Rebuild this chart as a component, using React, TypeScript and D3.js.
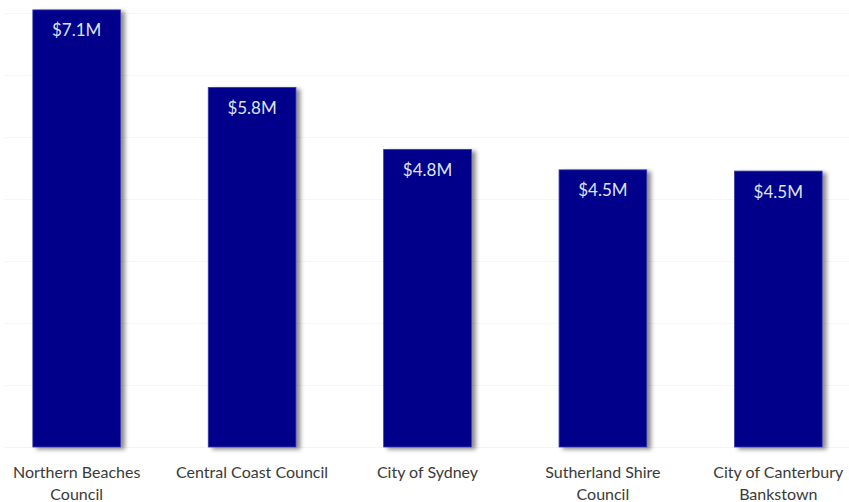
import React, { useEffect, useRef } from 'react';
import * as d3 from 'd3';

const councils = [
  'Northern Beaches Council',
  'Central Coast Council',
  'City of Sydney',
  'Sutherland Shire Council',
  'City of Canterbury Bankstown',
];
const grants = [7.05, 5.8, 4.8, 4.47, 4.45];
const barLabels = ['$7.1M', '$5.8M', '$4.8M', '$4.5M', '$4.5M'];
const gridTicks = [0, 1, 2, 3, 4, 5, 6, 7];

const WIDTH = 849;
const HEIGHT = 502;

export default function App() {
  const svgRef = useRef<SVGSVGElement>(null);

  useEffect(() => {
    if (!svgRef.current) return;
    const svg = d3.select(svgRef.current);
    svg.selectAll('*').remove();

    const baseline = 447;
    const x = d3.scaleBand().domain(councils).range([-11, 866]).paddingInner(0.5).paddingOuter(0.25);
    const y = d3.scaleLinear().domain([0, 7]).range([baseline, 13]);

    const defs = svg.append('defs');
    const f = defs.append('filter').attr('id', 'barShadow')
      .attr('x', '-10%').attr('y', '-10%').attr('width', '130%').attr('height', '120%');
    f.append('feDropShadow')
      .attr('dx', 4).attr('dy', 2).attr('stdDeviation', 2)
      .attr('flood-color', '#000').attr('flood-opacity', 0.45);

    // faint gridlines
    svg.append('g')
      .selectAll('line')
      .data(gridTicks)
      .join('line')
      .attr('x1', 4)
      .attr('x2', WIDTH)
      .attr('y1', d => Math.round(y(d)) + 0.5)
      .attr('y2', d => Math.round(y(d)) + 0.5)
      .attr('stroke', d => (d === 0 ? '#f4f4f4' : '#f3f7f7'))
      .attr('stroke-width', 1);

    // bars
    svg.append('g')
      .selectAll('rect')
      .data(grants)
      .join('rect')
      .attr('x', (_, i) => x(councils[i])!)
      .attr('y', d => y(d))
      .attr('width', x.bandwidth())
      .attr('height', d => baseline - y(d))
      .attr('fill', '#00008b')
      .attr('stroke', '#3a3aa8')
      .attr('stroke-width', 0.8)
      .attr('filter', 'url(#barShadow)');

    // value labels
    svg.append('g')
      .selectAll('text')
      .data(grants)
      .join('text')
      .attr('x', (_, i) => x(councils[i])! + x.bandwidth() / 2)
      .attr('y', d => y(d) + 26.5)
      .attr('text-anchor', 'middle')
      .attr('font-family', 'Lato, "Noto Sans", sans-serif')
      .attr('font-size', '17px')
      .attr('fill', '#dde4f4')
      .text((_, i) => barLabels[i]);

    // category labels, wrapped
    const cats = svg.append('g')
      .selectAll('text')
      .data(councils)
      .join('text')
      .attr('x', d => x(d)! + x.bandwidth() / 2)
      .attr('y', 478)
      .attr('text-anchor', 'middle')
      .attr('font-family', 'Lato, "Noto Sans", sans-serif')
      .attr('font-size', '16px')
      .attr('fill', '#3a3a3a');

    cats.each(function (d) {
      const text = d3.select(this);
      const words = d.split(' ');
      let line: string[] = [];
      const cx = text.attr('x');
      let tspan = text.append('tspan').attr('x', cx).attr('dy', 0);
      words.forEach(w => {
        line.push(w);
        tspan.text(line.join(' '));
        if ((tspan.node() as SVGTSpanElement).getComputedTextLength() > 162 && line.length > 1) {
          line.pop();
          tspan.text(line.join(' '));
          line = [w];
          tspan = text.append('tspan').attr('x', cx).attr('dy', 21.5).text(w);
        }
      });
    });
  }, []);

  return (
    <div style={{ position: 'absolute', left: 0, top: 0 }}>
      <svg ref={svgRef} width={WIDTH} height={HEIGHT} style={{ display: 'block', background: '#fff' }} />
    </div>
  );
}
